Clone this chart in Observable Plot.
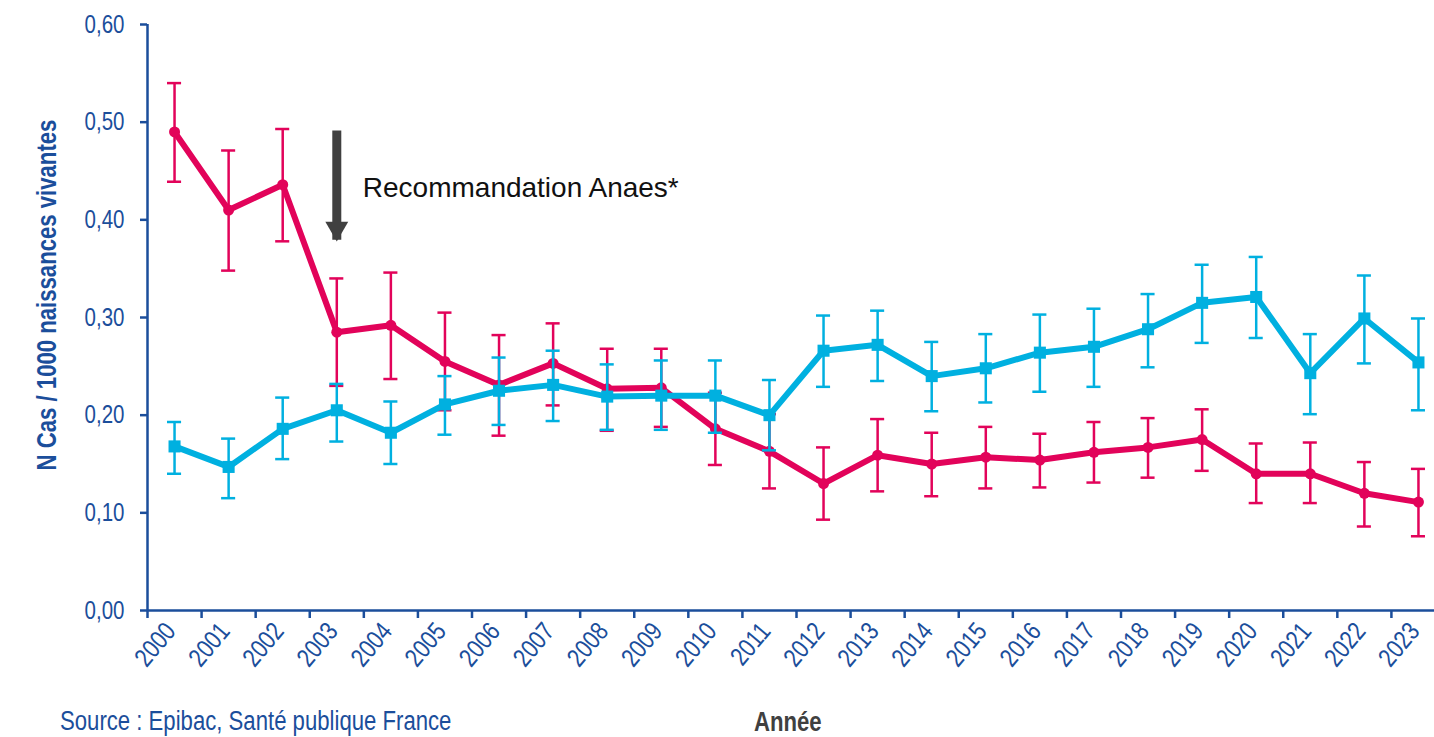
<!DOCTYPE html>
<html>
<head>
<meta charset="utf-8">
<script src="https://cdn.jsdelivr.net/npm/d3@7"></script>
<script src="https://cdn.jsdelivr.net/npm/@observablehq/plot@0.6"></script>
<style>
  html, body { margin: 0; padding: 0; background: #fff; }
  #wrap { position: relative; width: 1434px; height: 737px; overflow: hidden; }
  .narrow { font-family: "Liberation Sans", Arial, sans-serif; }
  #ytitle { position: absolute; left: 47px; top: 295px; transform: translate(-50%, -50%) rotate(-90deg) scaleX(0.82);
    white-space: nowrap; font-weight: bold; font-size: 27px; line-height: 1; color: #1B4E9B; }
  #xtitle { position: absolute; left: 754px; top: 709px; font-weight: bold; font-size: 27px; line-height: 1; color: #404040;
    white-space: nowrap; transform: scaleX(0.82); transform-origin: left top; }
  #source { position: absolute; left: 60px; top: 708px; font-size: 27px; line-height: 1; color: #1B4E9B; white-space: nowrap;
    transform: scaleX(0.82); transform-origin: left top; }
</style>
</head>
<body>
<div id="wrap">
  <div id="chart"></div>
  <div id="ytitle" class="narrow">N Cas / 1000 naissances vivantes</div>
  <div id="xtitle" class="narrow">Année</div>
  <div id="source" class="narrow">Source : Epibac, Santé publique France</div>
</div>
<script>
// ---- data ----
const years = [2000, 2001, 2002, 2003, 2004, 2005, 2006, 2007, 2008, 2009, 2010, 2011,
               2012, 2013, 2014, 2015, 2016, 2017, 2018, 2019, 2020, 2021, 2022, 2023];

const precoce     = [0.490, 0.410, 0.436, 0.285, 0.292, 0.255, 0.231, 0.253, 0.227, 0.228, 0.186, 0.163,
                     0.130, 0.159, 0.150, 0.157, 0.154, 0.162, 0.167, 0.175, 0.140, 0.140, 0.120, 0.111];
const precoceLow  = [0.439, 0.348, 0.378, 0.230, 0.237, 0.205, 0.179, 0.210, 0.184, 0.188, 0.149, 0.125,
                     0.093, 0.122, 0.117, 0.125, 0.126, 0.131, 0.136, 0.143, 0.110, 0.110, 0.086, 0.076];
const precoceHigh = [0.540, 0.471, 0.493, 0.340, 0.346, 0.305, 0.282, 0.294, 0.268, 0.268, 0.223, 0.201,
                     0.167, 0.196, 0.182, 0.188, 0.181, 0.193, 0.197, 0.206, 0.171, 0.172, 0.152, 0.145];

const tardive     = [0.168, 0.147, 0.186, 0.205, 0.182, 0.211, 0.225, 0.231, 0.219, 0.220, 0.220, 0.200,
                     0.266, 0.272, 0.240, 0.248, 0.264, 0.270, 0.288, 0.315, 0.321, 0.243, 0.299, 0.254];
const tardiveLow  = [0.140, 0.115, 0.155, 0.173, 0.150, 0.180, 0.190, 0.194, 0.185, 0.185, 0.182, 0.164,
                     0.229, 0.235, 0.204, 0.213, 0.224, 0.229, 0.249, 0.274, 0.279, 0.201, 0.253, 0.205];
const tardiveHigh = [0.193, 0.176, 0.218, 0.232, 0.214, 0.240, 0.259, 0.266, 0.252, 0.256, 0.256, 0.236,
                     0.302, 0.307, 0.275, 0.283, 0.303, 0.309, 0.324, 0.354, 0.362, 0.283, 0.343, 0.299];

const yTicks = [0, 0.1, 0.2, 0.3, 0.4, 0.5, 0.6];

const annotationLabel = "Recommandation Anaes*";
const annotationYear = 2003;
const annotationTop = 0.491;
const annotationTip = 0.379;
const annotationTextY = 0.433;

// ---- styles ----
const axisBlue = "#1B4E9B";
const red = "#E2035A";
const cyan = "#00B0E0";
const fontStack = '"Liberation Sans", Arial, sans-serif';

const rows = (v, lo, hi) => years.map((y, i) => ({year: y, v: v[i], lo: lo[i], hi: hi[i]}));
const red_ = rows(precoce, precoceLow, precoceHigh);
const cyan_ = rows(tardive, tardiveLow, tardiveHigh);

const half = 0.5;
const capHalf = 0.13;
const boundaries = years.map(y => y - half).concat([years[years.length - 1] + half]);
const xDomain = [years[0] - half, years[years.length - 1] + half];
const fmtY = d => d.toFixed(2).replace(".", ",");

function errorMarks(data, color) {
  return [
    Plot.ruleX(data, {x: "year", y1: "lo", y2: "hi", stroke: color, strokeWidth: 2.5}),
    Plot.ruleY(data, {y: "hi", x1: d => d.year - capHalf, x2: d => d.year + capHalf, stroke: color, strokeWidth: 2.5}),
    Plot.ruleY(data, {y: "lo", x1: d => d.year - capHalf, x2: d => d.year + capHalf, stroke: color, strokeWidth: 2.5})
  ];
}

const chart = Plot.plot({
  width: 1434,
  height: 737,
  marginLeft: 147,
  marginRight: 0,
  marginTop: 24,
  marginBottom: 127,
  style: {color: axisBlue, fontFamily: fontStack, background: "white"},
  x: {domain: xDomain, range: [147, 1445]},
  y: {domain: [0, 0.6], range: [610, 24]},
  marks: [
    Plot.axisY({ticks: yTicks, tickFormat: fmtY, tickSize: 7, tickPadding: 16,
                fontSize: 25, label: null, stroke: axisBlue, strokeWidth: 2.5}),
    Plot.axisX({ticks: boundaries, tickFormat: () => "", tickSize: 8, label: null, stroke: axisBlue, strokeWidth: 2.5}),
    Plot.axisX({ticks: years, tickFormat: d => String(d), tickSize: 0, tickPadding: 16, tickRotate: -50,
                fontSize: 26, label: null, dx: -4}),
    Plot.ruleX([xDomain[0]], {stroke: axisBlue, strokeWidth: 2.5}),
    Plot.ruleY([0], {stroke: axisBlue, strokeWidth: 2.5}),
    ...errorMarks(red_, red),
    Plot.line(red_, {x: "year", y: "v", stroke: red, strokeWidth: 6}),
    Plot.dot(red_, {x: "year", y: "v", fill: red, r: 5.5}),
    ...errorMarks(cyan_, cyan),
    Plot.line(cyan_, {x: "year", y: "v", stroke: cyan, strokeWidth: 6}),
    Plot.dot(cyan_, {x: "year", y: "v", fill: cyan, symbol: "square", r: 6.8}),
    Plot.ruleX([annotationYear], {y1: annotationTop, y2: annotationTip, stroke: "#404040", strokeWidth: 9}),
    Plot.dot([annotationYear], {x: d => d, y: annotationTip, symbol: "triangle", rotate: 180, r: 8.5, fill: "#404040", dy: -12}),
    Plot.text([annotationLabel], {x: annotationYear, y: annotationTextY, text: d => d, textAnchor: "start", dx: 26,
               fontSize: 28, fill: "#111", fontFamily: fontStack})
  ]
});
document.getElementById("chart").appendChild(chart);

// condense the axis tick labels horizontally (narrow face look)
const labelSet = new Set(years.map(String).concat(yTicks.map(fmtY)));
chart.querySelectorAll("text").forEach(t => {
  if (!labelSet.has(t.textContent.trim())) return;
  const T = t.getAttribute("transform");
  if (T) t.setAttribute("transform", `${T} scale(0.82,1)`);
});
</script>
</body>
</html>
